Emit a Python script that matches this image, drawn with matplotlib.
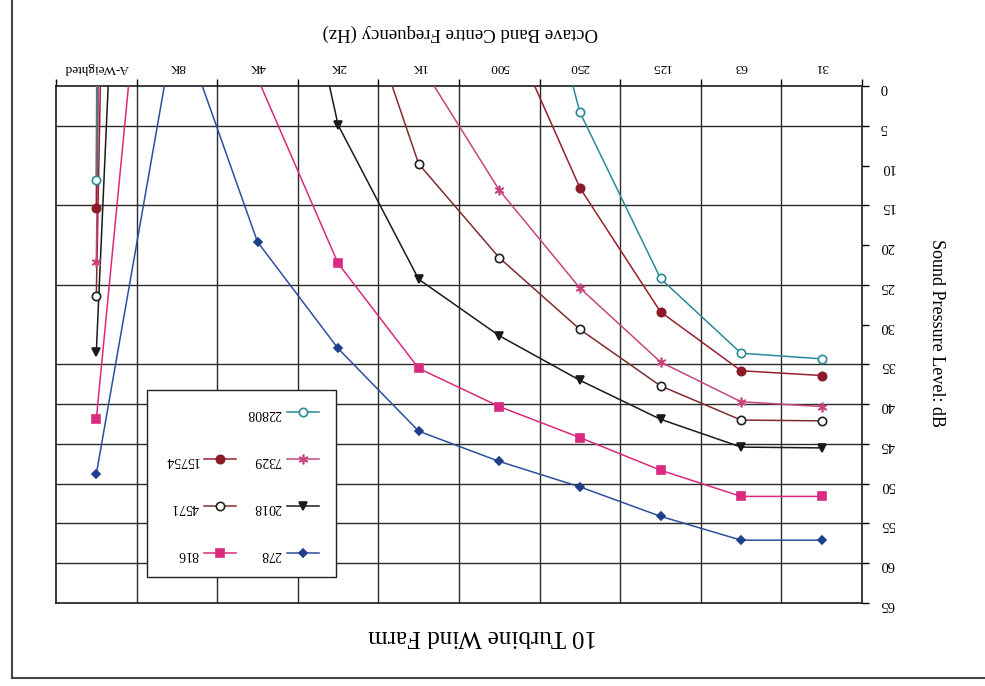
import numpy as np
import matplotlib
matplotlib.use('Agg')
import matplotlib.pyplot as plt
from matplotlib.lines import Line2D

plt.rcParams['font.family'] = ['Liberation Serif', 'DejaVu Serif']

# octave bands (x categories)
bands = ['31', '63', '125', '250', '500', '1K', '2K', '4K', '8K', 'A-Weighted']

# sound pressure level (dB) per distance
# (values above the top of the scale are rough guesses, they are clipped)
spl_278 = [57.1, 57.1, 54.1, 50.4, 47.2, 43.4, 33.0, 19.6, -9, 48.8]
spl_816 = [51.6, 51.6, 48.3, 44.2, 40.3, 35.5, 22.3, -1.0, -63, 41.9]
spl_2018 = [45.5, 45.4, 41.9, 37.0, 31.4, 24.3, 4.9, -41, -194, 33.5]
spl_4571 = [42.1, 42.0, 37.7, 30.6, 21.6, 9.8, -20, -90, -500, 26.4]
spl_7329 = [40.3, 39.7, 34.7, 25.4, 13.1, -3.1, -45, -160, -800, 22.1]
spl_15754 = [36.4, 35.8, 28.4, 12.8, -10, -45, -130, -400, -1800, 15.3]
spl_22808 = [34.3, 33.6, 24.2, 3.3, -35, -80, -200, -600, -2600, 11.8]

grid_levels = [5, 15, 25, 35, 40, 45, 50, 55, 60]

fig = plt.figure(figsize=(9.85, 6.86), dpi=100)
ax = fig.add_axes([56/985, 83/686, 806/985, 517/686])

x = np.arange(len(bands))

# line colour, marker, marker face, marker edge, marker size
series = [
    ('278', spl_278, '#2c4f9e', 'D', '#1f3f8a', '#1f3f8a', 4.5),
    ('816', spl_816, '#d92a7f', 's', '#d92a7f', '#d92a7f', 5.5),
    ('2018', spl_2018, '#1a1a1a', 'v', '#1a1a1a', '#1a1a1a', 6),
    ('4571', spl_4571, '#7e2c2c', 'o', 'white', '#222222', 6),
    ('7329', spl_7329, '#c8457f', (6, 2, 0), '#c8457f', '#c8457f', 7),
    ('15754', spl_15754, '#9a1f2e', 'o', '#8c1b2a', '#8c1b2a', 6),
    ('22808', spl_22808, '#2a8a98', 'o', 'white', '#2a8a98', 6),
]

h = {}
for name, vals, col, mk, mfc, mec, ms in series:
    line, = ax.plot(x, vals, color=col, lw=1.1, marker=mk, ms=ms,
                    mfc=mfc, mec=mec, mew=1.2, label=name, zorder=3)
    h[name] = line

# gridlines
for g in grid_levels:
    ax.axhline(g, color='#2a2a2a', lw=1.0, zorder=1)
for b in np.arange(0.5, len(bands) - 1, 1):
    ax.axvline(b, color='#2a2a2a', lw=1.0, zorder=1)

# chart is shown rotated by 180 degrees
ax.set_xlim(len(bands) - 0.5, -0.5)
ax.set_ylim(65, 0)

ax.xaxis.set_ticks_position('top')
ax.set_xticks(np.arange(-0.5, len(bands), 1))
ax.set_xticklabels([])
ax.set_xticks(x, minor=True)
ax.set_xticklabels(bands, minor=True)
ax.tick_params(axis='x', which='major', direction='out', length=5, width=1.0)
ax.tick_params(axis='x', which='minor', length=0, labelsize=9.5,
               labelrotation=180, pad=9)

ax.yaxis.set_ticks_position('right')
ax.set_yticks(np.arange(0, 66, 5))
ax.tick_params(axis='y', direction='out', length=5, width=1.0,
               labelsize=10.5, labelrotation=180, pad=8)

for s in ax.spines.values():
    s.set_linewidth(1.2)
    s.set_color('#1a1a1a')

fig.text(460/985, 1 - 33/686, 'Octave Band Centre Frequency (Hz)',
         rotation=180, ha='center', va='center', fontsize=13.5)
fig.text(936/985, 1 - 333/686, 'Sound Pressure Level: dB',
         rotation=270, ha='center', va='center', fontsize=13)
fig.text(483/985, 1 - 636/686, '10 Turbine Wind Farm',
         rotation=180, ha='center', va='center', fontsize=18)

# legend (two columns, upside down)
blank = Line2D([], [], linestyle='none')
order = [blank, h['15754'], h['4571'], h['816'],
         h['22808'], h['7329'], h['2018'], h['278']]
labs = ['', '15754', '4571', '816', '22808', '7329', '2018', '278']
leg = ax.legend(order, labs, ncol=2, markerfirst=False, loc='upper left',
                bbox_to_anchor=(147/985, 1 - 390/686),
                bbox_transform=fig.transFigure, borderaxespad=0,
                fontsize=10, labelspacing=2.45, handlelength=2.3,
                handletextpad=0.4, columnspacing=0.8, borderpad=1.2,
                fancybox=False, edgecolor='#222222', framealpha=1)
leg.get_frame().set_linewidth(1.0)
for t in leg.get_texts():
    t.set_rotation(180)

# chart area border (left and bottom edges of the scan)
fig.add_artist(Line2D([12/985, 12/985], [1, 8/686], color='#444444', lw=1.5))
fig.add_artist(Line2D([12/985, 1], [8/686, 8/686], color='#444444', lw=1.5))

fig.savefig('out.png', dpi=100)
